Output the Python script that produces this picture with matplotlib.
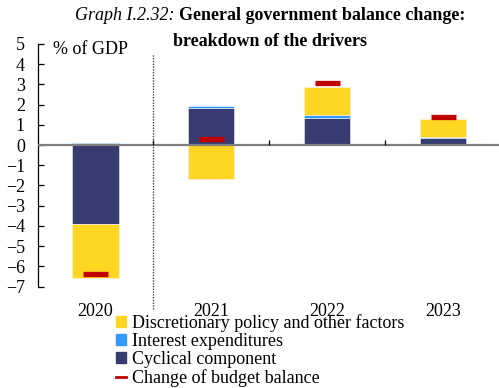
import matplotlib
matplotlib.use("Agg")
import matplotlib.pyplot as plt
import numpy as np
from matplotlib.patches import Patch
from matplotlib.lines import Line2D

plt.rcParams["font.family"] = ["Liberation Serif", "DejaVu Serif"]

years = ["2020", "2021", "2022", "2023"]
cyclical = [-3.9, 1.82, 1.35, 0.36]
interest = [0.1, 0.11, 0.12, 0.05]
discretionary = [-2.65, -1.7, 1.4, 0.88]
balance_change = [-6.35, 0.28, 3.05, 1.37]

c_yellow = "#FFD624"
c_blue = "#3399FF"
c_navy = "#363B70"
c_red = "#C00000"
fs = 13

fig = plt.figure(figsize=(4.99, 3.88), dpi=100)
ax = fig.add_axes([37.5 / 499, 1 - 286.7 / 388, 463.5 / 499, 242.9 / 388])

x = np.arange(len(years))
pos_base = np.zeros(len(years))
neg_base = np.zeros(len(years))
for vals, col in [(cyclical, c_navy), (interest, c_blue), (discretionary, c_yellow)]:
    vals = np.array(vals)
    bottom = np.where(vals >= 0, pos_base, neg_base)
    ax.bar(x, vals, width=0.4, bottom=bottom, color=col, edgecolor="#f4f4f4", linewidth=0.4, zorder=2)
    pos_base += np.clip(vals, 0, None)
    neg_base += np.clip(vals, None, 0)

ax.plot(x, balance_change, ls="none", marker="_", ms=18, mew=3.8, color=c_red, zorder=4)

ax.axhline(0, color="#7f7f7f", lw=1.6, zorder=3)
bounds = x[:-1] + 0.5
ax.vlines(bounds, 0, 0.25, color="black", lw=0.9, zorder=3)
ax.plot([0.5, 0.5], [-8.1, 4.5], color="#444444", lw=1, ls=(0, (1, 1)), clip_on=False, zorder=1)

ax.set_xlim(-0.5, 3.5)
ax.set_ylim(-7, 5)
ax.set_yticks(range(-7, 6))
ax.set_xticks(x)
ax.set_xticklabels(years)
ax.tick_params(axis="y", direction="in", length=4, width=0.9, pad=9, labelsize=fs)
ax.tick_params(axis="x", length=0, pad=11.5, labelsize=fs)
for s in ["top", "right", "bottom"]:
    ax.spines[s].set_visible(False)
ax.spines["left"].set_linewidth(0.9)

ax.text(53 / 499, 1 - 54 / 388, "% of GDP", transform=fig.transFigure, fontsize=fs, va="baseline")

# title: italic prefix + bold text, centered
fig.canvas.draw()
r = fig.canvas.get_renderer()
t1 = fig.text(0, 1 - 20 / 388, "Graph I.2.32: ", fontsize=fs, style="italic", va="baseline")
t2 = fig.text(0, 1 - 20 / 388, "General government balance change:", fontsize=fs, weight="bold", va="baseline")
w1 = t1.get_window_extent(r).width
w2 = t2.get_window_extent(r).width
cx = 270
x0 = cx - (w1 + w2) / 2
t1.set_x(x0 / 499)
t2.set_x((x0 + w1) / 499)
fig.text(cx / 499, 1 - 46 / 388, "breakdown of the drivers", fontsize=fs, weight="bold", va="baseline", ha="center")

handles = [
    Patch(color=c_yellow),
    Patch(color=c_blue),
    Patch(color=c_navy),
    Line2D([], [], color=c_red, lw=2),
]
labels = [
    "Discretionary policy and other factors",
    "Interest expenditures",
    "Cyclical component",
    "Change of budget balance",
]
fig.legend(handles, labels, loc="upper left", bbox_to_anchor=(116 / 499, 1 - 314 / 388),
           frameon=False, fontsize=fs, handlelength=0.55, handleheight=0.5,
           handletextpad=0.35, labelspacing=0.06, borderpad=0, borderaxespad=0)

fig.savefig("out.png", dpi=100)
